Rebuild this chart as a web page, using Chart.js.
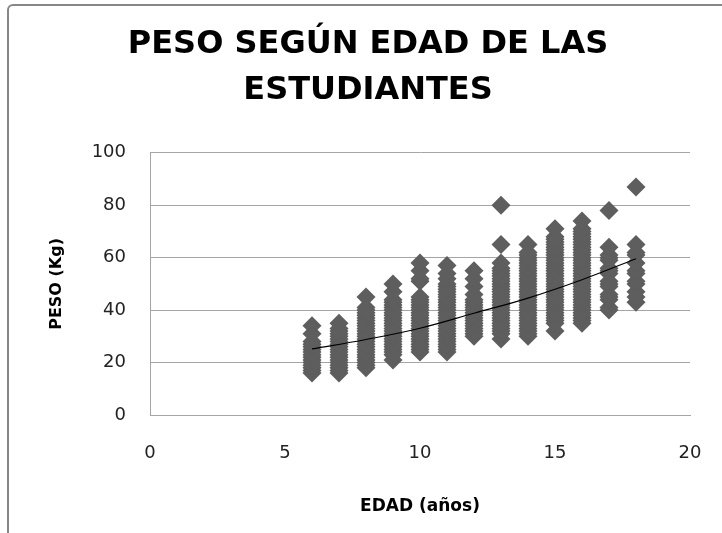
<!DOCTYPE html>
<html>
<head>
<meta charset="utf-8">
<title>Peso según edad</title>
<script src="https://cdn.jsdelivr.net/npm/chart.js@4.4.0/dist/chart.umd.min.js"></script>
<style>
  html, body { margin: 0; padding: 0; background: #fff; }
  #wrap { position: relative; width: 722px; height: 533px; overflow: hidden; }
  #marco { position: absolute; left: 7px; top: 4px; width: 800px; height: 700px; border: 2px solid #878787; border-radius: 6px; }
  #grafico { position: absolute; left: 0; top: 0; }
</style>
</head>
<body>
<div id="wrap">
  <div id="marco"></div>
  <canvas id="grafico" width="722" height="533"></canvas>
</div>
<script>
// Datos: peso (kg) de las estudiantes por edad
const edades = [6, 7, 8, 9, 10, 11, 12, 13, 14, 15, 16, 17, 18];

const pesos6  = [16, 17, 18, 19, 20, 21, 22, 23, 24, 25, 26, 27, 28, 31, 34];
const pesos7  = [16, 17, 18, 19, 20, 21, 22, 23, 24, 25, 26, 27, 28, 29, 30, 31, 32, 33, 35];
const pesos8  = [18, 19, 20, 21, 22, 23, 24, 25, 26, 27, 28, 29, 30, 31, 32, 33, 34, 35, 36, 37, 38, 39, 40, 41, 45];
const pesos9  = [21, 23, 24, 25, 26, 27, 28, 29, 30, 31, 32, 33, 34, 35, 36, 37, 38, 39, 40, 41, 42, 43, 44, 47, 50];
const pesos10 = [24, 25, 26, 27, 28, 29, 30, 31, 32, 33, 34, 35, 36, 37, 38, 39, 40, 41, 42, 43, 44, 45, 51, 52, 55, 58];
const pesos11 = [24, 25, 26, 27, 28, 29, 30, 31, 32, 33, 34, 35, 36, 37, 38, 39, 40, 41, 42, 43, 44, 45, 46, 47, 48, 49, 50, 52, 54, 57];
const pesos12 = [30, 31, 32, 33, 34, 35, 36, 37, 38, 39, 40, 41, 42, 43, 44, 46, 49, 52, 55];
const pesos13 = [29, 31, 32, 33, 34, 35, 36, 37, 38, 39, 40, 41, 42, 43, 44, 45, 46, 47, 48, 49, 50, 51, 52, 53, 54, 55, 56, 58, 65, 80];
const pesos14 = [30, 31, 32, 33, 34, 35, 36, 37, 38, 39, 40, 41, 42, 43, 44, 45, 46, 47, 48, 49, 50, 51, 52, 53, 54, 55, 56, 57, 58, 59, 60, 61, 62, 65];
const pesos15 = [32, 35, 36, 37, 38, 39, 40, 41, 42, 43, 44, 45, 46, 47, 48, 49, 50, 51, 52, 53, 54, 55, 56, 57, 58, 59, 60, 61, 62, 63, 64, 65, 66, 67, 68, 71];
const pesos16 = [35, 36, 37, 38, 39, 40, 41, 42, 43, 44, 45, 46, 47, 48, 49, 50, 51, 52, 53, 54, 55, 56, 57, 58, 59, 60, 61, 62, 63, 64, 65, 66, 67, 68, 69, 70, 71, 74];
const pesos17 = [40, 41, 44, 45, 46, 49, 50, 51, 54, 55, 56, 59, 60, 61, 64, 78];
const pesos18 = [43, 45, 47, 50, 51, 54, 55, 58, 61, 62, 65, 87];

const pesosPorEdad = [pesos6, pesos7, pesos8, pesos9, pesos10, pesos11, pesos12,
  pesos13, pesos14, pesos15, pesos16, pesos17, pesos18];

// Línea de tendencia (exponencial)
const tendenciaX = [6, 8, 10, 12, 14, 16, 18];
const tendenciaY = [25.2, 28.8, 33.1, 38.8, 44.6, 51.6, 59.6];

const puntos = [];
edades.forEach((edad, i) => {
    pesosPorEdad[i].forEach(p => puntos.push({ x: edad, y: p }));
});
const tendencia = tendenciaX.map((x, i) => ({ x: x, y: tendenciaY[i] }));

const colorGris = '#a5a5a5';

new Chart(document.getElementById('grafico'), {
    type: 'scatter',
    data: {
        datasets: [
            {
                type: 'line',
                data: tendencia,
                borderColor: '#000',
                borderWidth: 1.2,
                pointRadius: 0,
                fill: false,
                tension: 0.4,
                order: 0
            },
            {
                data: puntos,
                pointStyle: 'rectRot',
                pointRadius: 9.5,
                pointBackgroundColor: '#5e5e5e',
                pointBorderWidth: 0,
                order: 1
            }
        ]
    },
    options: {
        responsive: false,
        animation: false,
        devicePixelRatio: 1,
        layout: { padding: { top: 0, right: 32, bottom: 0, left: 46 } },
        plugins: {
            legend: { display: false },
            tooltip: { enabled: false },
            title: {
                display: true,
                text: ['PESO SEGÚN EDAD DE LAS', 'ESTUDIANTES'],
                color: '#000',
                font: { family: 'DejaVu Sans', weight: 'bold', size: 32, lineHeight: 1.45 },
                padding: { top: 21, bottom: 39 }
            }
        },
        scales: {
            x: {
                type: 'linear',
                min: 0,
                max: 20,
                ticks: {
                    stepSize: 5,
                    color: '#222',
                    padding: 0,
                    font: { family: 'DejaVu Sans', size: 18 }
                },
                // marcas invisibles: sólo separan las etiquetas del eje
                grid: { display: false, drawTicks: true, tickLength: 28 },
                border: { display: true, color: colorGris, width: 1 },
                title: {
                    display: true,
                    text: 'EDAD (años)',
                    color: '#000',
                    font: { family: 'DejaVu Sans', weight: 'bold', size: 17 },
                    padding: { top: 0, bottom: 16 }
                },
                afterFit: scale => { scale.height = 118; }
            },
            y: {
                min: 0,
                max: 100,
                ticks: {
                    stepSize: 20,
                    color: '#222',
                    padding: 24,
                    font: { family: 'DejaVu Sans', size: 18 }
                },
                grid: { color: colorGris, lineWidth: 1, drawTicks: false },
                border: { display: true, color: colorGris, width: 1 },
                title: {
                    display: true,
                    text: 'PESO (Kg)',
                    color: '#000',
                    font: { family: 'DejaVu Sans', weight: 'bold', size: 16 },
                    padding: { top: 1, bottom: 0 }
                },
                afterFit: scale => { scale.width = 104; }
            }
        }
    }
});
</script>
</body>
</html>
